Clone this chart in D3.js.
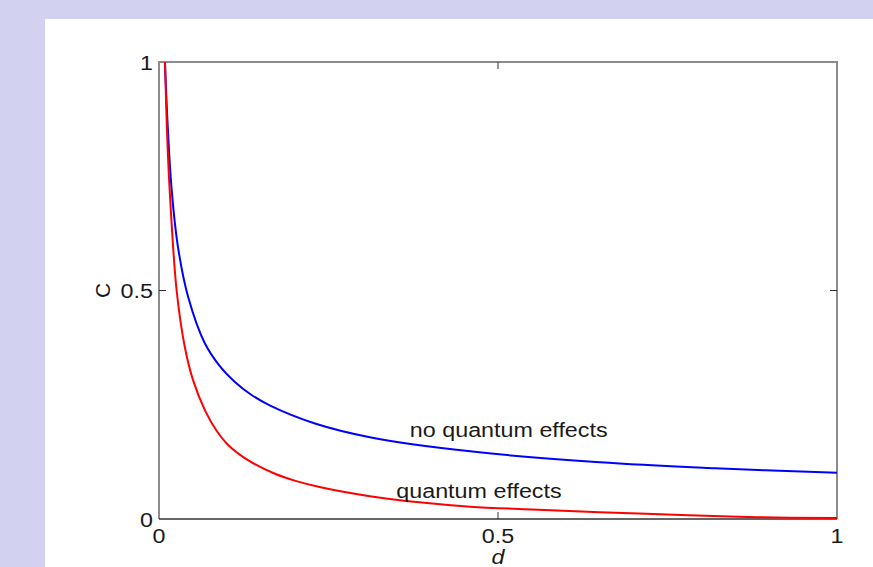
<!DOCTYPE html>
<html>
<head>
<meta charset="utf-8">
<script src="https://cdn.jsdelivr.net/npm/d3@7"></script>
<style>
  body { margin: 0; background: #d2d2f0; }
  svg { display: block; }
</style>
</head>
<body>
<svg id="chart"></svg>
<script>
/////////////////////////////////////////////////
///////////////////Data//////////////////////////
/////////////////////////////////////////////////

// separation d vs coupling C
var blueD = [0.0088, 0.0125, 0.0187, 0.028, 0.0428, 0.0678, 0.09, 0.112, 0.135, 0.164, 0.23, 0.311, 0.459, 0.65, 0.82, 1.0];
var blueC = [1.0, 0.87, 0.72, 0.595, 0.487, 0.384, 0.334, 0.3, 0.273, 0.248, 0.209, 0.179, 0.148, 0.124, 0.111, 0.101];

var redD = [0.0088, 0.012, 0.016, 0.026, 0.038, 0.05, 0.068, 0.085, 0.102, 0.13, 0.171, 0.2, 0.24, 0.311, 0.38, 0.459, 0.55, 0.65, 0.77, 0.882, 1.0];
var redC = [1.0, 0.84, 0.713, 0.5, 0.377, 0.305, 0.237, 0.193, 0.162, 0.13, 0.099, 0.084, 0.069, 0.05, 0.037, 0.027, 0.021, 0.015, 0.009, 0.004, 0.002];

var xTicks = [0, 0.5, 1];
var yTicks = [0, 0.5, 1];
var xTickLabels = ["0", "0.5", "1"];
var yTickLabels = ["0", "0.5", "1"];

var labels = [
  {text: "no quantum effects", d: 0.37, c: 0.18},
  {text: "quantum effects", d: 0.35, c: 0.045}
];

/////////////////////////////////////////////////
///////////////////Chart/////////////////////////
/////////////////////////////////////////////////

var svgWidth = 873, svgHeight = 567;
var plotLeft = 159, plotRight = 837, plotTop = 62, plotBottom = 519;
var fontFam = "'Liberation Sans', Arial, sans-serif";
var stretch = 1.11;

var svg = d3.select("#chart")
.attr("width", svgWidth)
.attr("height", svgHeight);

svg.append("rect")
.attr("x", 0).attr("y", 0)
.attr("width", svgWidth).attr("height", svgHeight)
.attr("fill", "#d2d2f0");

svg.append("rect")
.attr("x", 45).attr("y", 19)
.attr("width", svgWidth - 45).attr("height", svgHeight - 19)
.attr("fill", "#ffffff");

var x = d3.scaleLinear().domain([0, 1]).range([plotLeft, plotRight]);
var y = d3.scaleLinear().domain([0, 1]).range([plotBottom, plotTop]);

// box
svg.append("path")
.attr("d", "M" + plotLeft + "," + plotBottom + "V" + plotTop + "H" + plotRight + "V" + plotBottom)
.attr("fill", "none")
.attr("stroke", "#8c8c8c")
.attr("stroke-width", 2);

svg.append("line")
.attr("x1", plotLeft).attr("x2", plotRight)
.attr("y1", plotBottom).attr("y2", plotBottom)
.attr("stroke", "#333")
.attr("stroke-width", 1.5);

// ticks (inward, mirrored like matlab)
var tickLen = 7;
svg.selectAll(".xtick")
.data(xTicks.slice(1, -1))
.enter()
.append("path")
.attr("d", function (d) {
  return "M" + x(d) + "," + plotBottom + "v" + (-tickLen) + "M" + x(d) + "," + plotTop + "v" + tickLen;
})
.attr("stroke", "#333")
.attr("stroke-width", 1);

svg.selectAll(".ytick")
.data(yTicks.slice(1, -1))
.enter()
.append("path")
.attr("d", function (d) {
  return "M" + plotLeft + "," + y(d) + "h" + tickLen + "M" + plotRight + "," + y(d) + "h" + (-tickLen);
})
.attr("stroke", "#333")
.attr("stroke-width", 1);

// tick labels
svg.selectAll(".xlab")
.data(xTicks)
.enter()
.append("text")
.attr("transform", function (d) {
  return "translate(" + x(d) + "," + 543 + ") scale(" + stretch + ",1)";
})
.attr("text-anchor", "middle")
.attr("font-family", fontFam)
.attr("font-size", 21)
.attr("fill", "#1a1a1a")
.text(function (d, i) { return xTickLabels[i]; });

svg.selectAll(".ylab")
.data(yTicks)
.enter()
.append("text")
.attr("transform", function (d) {
  return "translate(" + 153 + "," + (y(d) + 7.5) + ") scale(" + stretch + ",1)";
})
.attr("text-anchor", "end")
.attr("font-family", fontFam)
.attr("font-size", 21)
.attr("fill", "#1a1a1a")
.text(function (d, i) { return yTickLabels[i]; });

// axis titles
svg.append("text")
.attr("transform", "translate(" + x(0.5) + "," + 564 + ") scale(" + stretch + ",1)")
.attr("text-anchor", "middle")
.attr("font-family", fontFam)
.attr("font-style", "italic")
.attr("font-size", 21)
.attr("fill", "#1a1a1a")
.text("d");

svg.append("text")
.attr("transform", "translate(" + 110 + "," + y(0.5) + ") rotate(-90)")
.attr("text-anchor", "middle")
.attr("font-family", fontFam)
.attr("font-size", 21)
.attr("fill", "#1a1a1a")
.text("C");

// curves
var line = d3.line()
.x(function (d) { return x(d[0]); })
.y(function (d) { return y(d[1]); })
.curve(d3.curveCatmullRom.alpha(0.5));

svg.append("path")
.datum(d3.zip(blueD, blueC))
.attr("d", line)
.attr("fill", "none")
.attr("stroke", "#0000ff")
.attr("stroke-width", 2);

svg.append("path")
.datum(d3.zip(redD, redC))
.attr("d", line)
.attr("fill", "none")
.attr("stroke", "#ff0000")
.attr("stroke-width", 2);

// curve labels
svg.selectAll(".note")
.data(labels)
.enter()
.append("text")
.attr("transform", function (d) {
  return "translate(" + x(d.d) + "," + y(d.c) + ") scale(" + stretch + ",1)";
})
.attr("font-family", fontFam)
.attr("font-size", 21)
.attr("fill", "#1a1a1a")
.text(function (d) { return d.text; });
</script>
</body>
</html>
